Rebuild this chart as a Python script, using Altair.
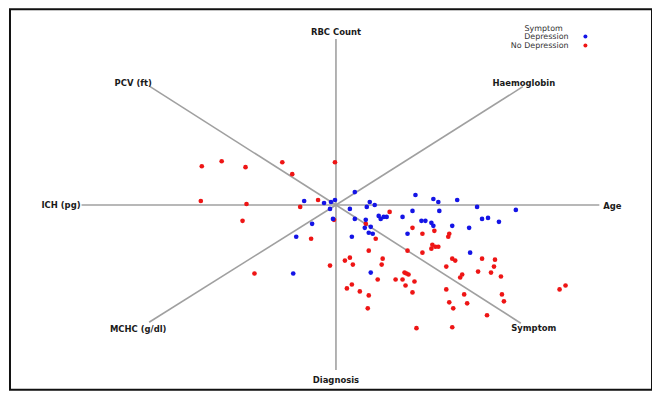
import altair as alt
import pandas as pd

# ---- data: component scores ----
dep_x = [-0.32, -0.12, -0.05, -0.01, -0.06, -0.03, -0.24, -0.40, -0.43, 0.19, 0.34, 0.39, 0.31, 0.14,
         0.80, 0.98, 1.03, 1.22, 0.77, 1.04, 1.42, 1.81, 0.43, 0.48, 0.51, 0.45, 0.67, 0.19, 0.30,
         0.86, 0.90, 0.96, 0.98, 1.17, 1.47, 1.53, 1.64, 1.34, 0.29, 0.35, 0.33, 0.37, 0.16, 0.72,
         1.35, 0.35]
dep_y = [0.04, 0.02, 0.03, 0.05, -0.04, -0.14, -0.19, -0.32, -0.69, 0.13, 0.03, 0.00, -0.02, -0.04,
         0.10, 0.06, 0.03, 0.05, -0.06, -0.06, -0.02, -0.05, -0.11, -0.12, -0.12, -0.14, -0.12, -0.14,
         -0.15, -0.16, -0.16, -0.18, -0.21, -0.21, -0.14, -0.13, -0.17, -0.23, -0.23, -0.22, -0.28,
         -0.29, -0.32, -0.29, -0.48, -0.68]

nodep_x = [-1.35, -1.15, -0.91, -0.54, -0.01, -0.44, -1.36, -0.90, -0.94, -0.18, -0.36, -0.02, -0.25,
           -0.82, 0.54, 0.30, 0.40, 0.77, 0.87, 0.99, 1.14, 1.13, 0.97, 1.00, 1.03, 0.96, 0.72, 0.87,
           0.33, 0.14, 0.09, 0.17, 0.47, 0.46, -0.06, 1.17, 1.20, 1.47, 1.60, 1.11, 1.59, 0.69, 0.71,
           0.73, 1.27, 1.43, 1.56, 1.25, 1.66, 0.42, 0.60, 0.67, 0.79, 0.16, 0.11, 0.70, 0.24, 1.11,
           0.33, 0.77, 1.29, 1.67, 1.14, 1.69, 1.32, 0.32, 1.18, 1.52, 0.81, 1.17, 2.25, 2.31]
nodep_y = [0.39, 0.44, 0.38, 0.43, 0.43, 0.31, 0.04, 0.01, -0.16, 0.05, -0.02, -0.15, -0.34,
           -0.69, -0.07, -0.19, -0.34, -0.23, -0.29, -0.26, -0.29, -0.32, -0.40, -0.42, -0.42, -0.44,
           -0.46, -0.48, -0.46, -0.53, -0.56, -0.60, -0.54, -0.60, -0.61, -0.54, -0.56, -0.54, -0.55,
           -0.62, -0.62, -0.68, -0.69, -0.70, -0.70, -0.67, -0.68, -0.73, -0.72, -0.75, -0.75, -0.75,
           -0.77, -0.80, -0.84, -0.81, -0.87, -0.85, -0.91, -0.88, -0.90, -0.90, -0.98, -0.97, -0.99,
           -1.04, -1.04, -1.11, -1.24, -1.23, -0.85, -0.81]

groups = ["Depression", "No Depression"]
group_colors = ["#1414e6", "#ee1515"]

# loading vectors
var_names = ["RBC Count", "Diagnosis", "Age", "ICH (pg)", "PCV (ft)", "Haemoglobin", "MCHC (g/dl)", "Symptom"]
load_x = [0.0, 0.0, 2.65, -2.56, -1.87, 1.88, -1.88, 1.86]
load_y = [1.67, -1.66, 0.0, 0.0, 1.19, 1.19, -1.18, -1.19]
label_x = [0.0, 0.0, 2.69, -2.57, -2.04, 1.89, -1.99, 1.99]
label_y = [1.74, -1.76, -0.01, 0.0, 1.23, 1.23, -1.25, -1.24]
label_align = ["center", "center", "left", "right", "center", "center", "center", "center"]

# ---- tables ----
pts = pd.DataFrame({
    "x": nodep_x + dep_x,
    "y": nodep_y + dep_y,
    "Symptom": [groups[1]] * len(nodep_x) + [groups[0]] * len(dep_x),
})
loads = pd.DataFrame({"name": var_names, "x0": 0.0, "y0": 0.0, "x": load_x, "y": load_y})
labels = pd.DataFrame({"name": var_names, "x": label_x, "y": label_y, "align": label_align})
leg = pd.DataFrame({"Symptom": groups, "row": [0, 1]})

xs = alt.Scale(domain=[-3.28, 3.18], nice=False, zero=False)
ys = alt.Scale(domain=[-1.86, 1.97], nice=False, zero=False)
cs = alt.Scale(domain=groups, range=group_colors)

rules = alt.Chart(loads).mark_rule(color="#a0a0a0", strokeWidth=1.6).encode(
    x=alt.X("x0:Q", scale=xs, axis=None),
    y=alt.Y("y0:Q", scale=ys, axis=None),
    x2="x:Q",
    y2="y:Q",
)

def lab(align):
    return alt.Chart(labels[labels["align"] == align]).mark_text(
        font="DejaVu Sans", fontSize=8.5, fontWeight="bold", color="#1a1a1a",
        align=align, baseline="middle",
    ).encode(
        x=alt.X("x:Q", scale=xs, axis=None),
        y=alt.Y("y:Q", scale=ys, axis=None),
        text="name:N",
    )

points = alt.Chart(pts).mark_circle(size=22, opacity=1).encode(
    x=alt.X("x:Q", scale=xs, axis=None),
    y=alt.Y("y:Q", scale=ys, axis=None),
    color=alt.Color("Symptom:N", scale=cs, legend=None),
    order=alt.Order("Symptom:N", sort="descending"),
)

# custom legend (labels right-aligned, symbols to the right)
leg_title = alt.Chart(leg.head(1)).mark_text(
    font="DejaVu Sans", fontSize=8, color="#333333", align="center", baseline="middle"
).encode(x=alt.value(537), y=alt.value(19.5), text=alt.value("Symptom"))

leg_text = alt.Chart(leg).mark_text(
    font="DejaVu Sans", fontSize=8, color="#333333", align="right", baseline="middle"
).encode(
    x=alt.value(562),
    y=alt.Y("row:Q", scale=alt.Scale(domain=[0, 1], range=[28.5, 37.5]), axis=None),
    text="Symptom:N",
)
leg_pts = alt.Chart(leg).mark_circle(size=16, opacity=1).encode(
    x=alt.value(579),
    y=alt.Y("row:Q", scale=alt.Scale(domain=[0, 1], range=[27.5, 36.5]), axis=None),
    color=alt.Color("Symptom:N", scale=cs, legend=None),
)

chart = alt.layer(
    rules, lab("center"), lab("left"), lab("right"), points, leg_title, leg_text, leg_pts
).resolve_scale(y="independent").properties(
    width=646, height=383, autosize="none",
    padding={"left": 2, "top": 0, "right": 0, "bottom": 0},
    background="white",
).configure_view(stroke="#111111", strokeWidth=2)

chart.save("out.html", embed_options={"renderer": "svg", "actions": False})
